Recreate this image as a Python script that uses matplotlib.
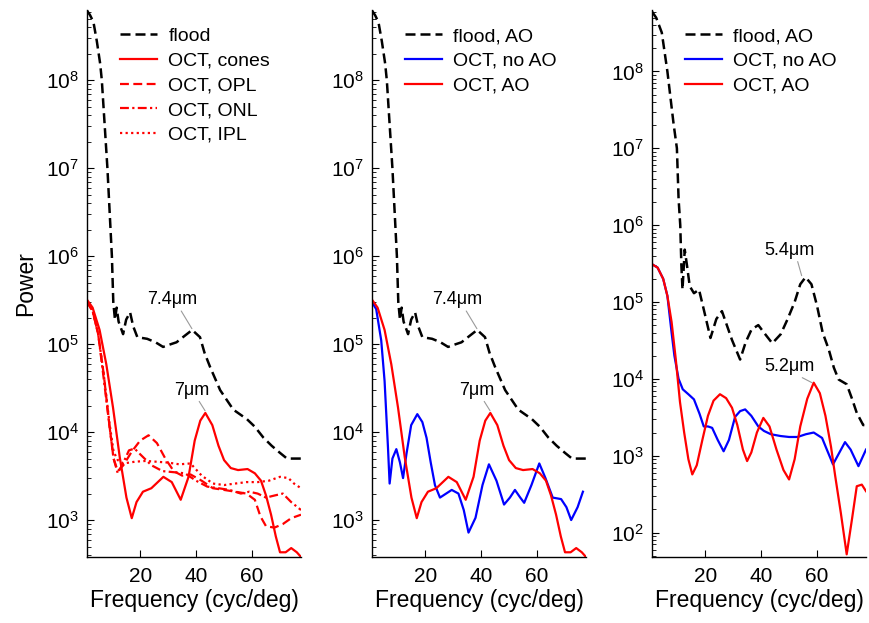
import matplotlib
matplotlib.use("Agg")
import matplotlib.pyplot as plt
from matplotlib.ticker import LogLocator, FixedLocator, NullFormatter, NullLocator

plt.rcParams['font.family'] = ['Liberation Sans', 'DejaVu Sans']
plt.rcParams['mathtext.fontset'] = 'custom'
plt.rcParams['mathtext.rm'] = 'Liberation Sans'
plt.rcParams['mathtext.it'] = 'Liberation Sans:italic'

# ---------------- data (frequency in cyc/deg, power) ----------------
flood_f = [1, 2.1, 3.3, 4.5, 5.7, 6.3, 8.3, 9.9, 10.4, 11.0, 11.6, 12.3, 13.2, 13.9, 15.0,
           16.4, 17.5, 19.0, 22.5, 25.5, 28.2, 31, 33, 36, 38.6, 41.4, 43, 45, 48.6, 53.3,
           58.2, 61, 64, 67, 70, 72.5, 77.5]
flood_p = [6.2e8, 5.5e8, 4.6e8, 2.8e8, 1.55e8, 1e8, 1e7, 1e6, 3e5, 1.9e5, 2.6e5, 1.8e5, 1.5e5,
           1.3e5, 1.9e5, 2.3e5, 1.6e5, 1.2e5, 1.15e5, 1.05e5, 9.3e4, 1e5, 1.05e5, 1.25e5, 1.45e5,
           1.2e5, 8e4, 5.5e4, 3e4, 1.8e4, 1.4e4, 1.15e4, 8.7e3, 7e3, 5.8e3, 5e3, 5e3]

cones_f = [1, 3, 5.5, 7.9, 10.3, 12.7, 15.1, 17, 18.7, 21, 24, 28.3, 31.3, 34.5, 37.3, 39.5,
           41.5, 43.3, 45.8, 48, 50, 52.4, 55, 58.4, 61, 63.2, 65, 66.8, 68.5, 70, 72, 74, 76, 77.5]
cones_p = [3.2e5, 2.6e5, 1.45e5, 5.9e4, 1.9e4, 5.2e3, 1.8e3, 1.05e3, 1.6e3, 2.1e3, 2.3e3, 3.1e3,
           2.7e3, 1.7e3, 3.1e3, 8e3, 1.35e4, 1.65e4, 1.2e4, 7e3, 4.8e3, 3.9e3, 3.7e3, 3.8e3,
           3.4e3, 2.8e3, 1.9e3, 1.15e3, 650, 430, 430, 480, 430, 380]

opl_f = [1, 3, 5, 7, 9, 10.5, 12, 14, 17, 20, 23, 26, 29, 32, 35, 38, 42, 46, 50, 54, 58, 61,
         63, 65, 68, 71, 74, 77.5]
opl_p = [3e5, 2.4e5, 1.3e5, 4.5e4, 1.2e4, 5e3, 3.6e3, 4.2e3, 6e3, 8e3, 9.2e3, 7.5e3, 5e3, 3.6e3,
         3.2e3, 3.3e3, 2.8e3, 2.3e3, 2.2e3, 2.1e3, 2e3, 1.7e3, 1.1e3, 850, 820, 900, 1.05e3, 1.15e3]

onl_f = [1, 3, 5, 7, 9, 10.5, 12, 14, 16, 18, 20, 24, 28, 32, 36, 40, 44, 48, 52, 56, 59, 62,
         65, 68, 71, 74, 77.5]
onl_p = [3e5, 2.4e5, 1.3e5, 4e4, 1.2e4, 5e3, 3.4e3, 4.5e3, 6.2e3, 6.5e3, 5.6e3, 4.2e3, 3.6e3,
         3.5e3, 3.4e3, 2.8e3, 2.4e3, 2.3e3, 2.2e3, 2e3, 2.1e3, 2e3, 1.8e3, 1.9e3, 2e3, 1.6e3, 1.3e3]

ipl_f = [1, 3, 5, 7, 9, 10.5, 12, 14, 18, 22, 26, 30, 34, 38, 42, 46, 50, 54, 58, 62, 66, 70,
         73, 75, 77.5]
ipl_p = [3e5, 2.4e5, 1.3e5, 4.5e4, 1.3e4, 6e3, 4.8e3, 4.4e3, 4.6e3, 4.7e3, 4.6e3, 4.5e3, 4.3e3,
         4.4e3, 3.2e3, 2.6e3, 2.5e3, 2.6e3, 2.7e3, 2.7e3, 2.8e3, 3.1e3, 3e3, 2.6e3, 2.3e3]

noao_f = [1, 2.5, 4.3, 5.5, 6.7, 7.3, 8.3, 9.7, 11, 12.1, 13.3, 15, 17.2, 19, 20.5, 22, 23.5,
          25.3, 27.5, 29.5, 31.9, 33.8, 35.5, 38, 40.5, 42.8, 45.5, 48.2, 50.3, 52.1, 54, 55.4,
          58, 60.8, 63, 65.6, 68.6, 70.5, 72.2, 74.5, 76.4]
noao_p = [3e5, 2.5e5, 1.1e5, 3.8e4, 6.8e3, 2.6e3, 5e3, 6.4e3, 4.5e3, 3e3, 5.6e3, 1.2e4, 1.6e4,
          1.3e4, 8.6e3, 4.5e3, 2.5e3, 1.8e3, 2e3, 2.2e3, 2e3, 1.3e3, 720, 1.06e3, 2.5e3, 4.3e3,
          2.8e3, 1.5e3, 1.8e3, 2.2e3, 1.8e3, 1.57e3, 2.5e3, 4.4e3, 3e3, 1.8e3, 1.73e3, 1.4e3,
          1e3, 1.4e3, 2.1e3]

flood3_f = [1, 2.5, 4.5, 6.5, 8.7, 9.9, 10.5, 11.1, 11.5, 11.9, 12.7, 13.5, 14.5, 16, 17.8, 19.5,
            21.9, 24, 26, 29.6, 32.5, 34.5, 36.6, 39, 41, 44, 47, 49.4, 52, 54, 55.9, 58, 60,
            62, 64.2, 66, 67.7, 70.6, 72.5, 74.2, 76.5, 77.5]
flood3_p = [6e8, 5e8, 3.2e8, 1e8, 2.1e7, 1e7, 2.2e6, 1e6, 3e5, 1.45e5, 4.8e5, 3e5, 1.6e5, 1.3e5,
            1.45e5, 8e4, 3.4e4, 6e4, 7.6e4, 3.2e4, 1.78e4, 3e4, 4.4e4, 5e4, 4e4, 2.9e4, 3.8e4,
            5.9e4, 1e5, 1.7e5, 2.1e5, 1.7e5, 8.9e4, 4e4, 2.4e4, 1.4e4, 9.8e3, 8.5e3, 5.5e3,
            3.6e3, 2.5e3, 2.5e3]

ao3_f = [1, 3, 5, 6.5, 8, 9.5, 11, 12.5, 14, 15.4, 17, 19, 21, 23, 25.3, 27.5, 29.6, 31.5, 33.5,
         35, 36.5, 38.5, 40.8, 43, 45.5, 48, 50, 52, 54, 56.5, 58.8, 61, 63, 65, 66.5, 68.5,
         70.6, 72.5, 74.2, 76, 77.5]
ao3_p = [3.1e5, 2.8e5, 2e5, 1.2e5, 5.5e4, 1.8e4, 5e3, 2e3, 900, 570, 750, 1.6e3, 3.3e3, 5.2e3,
         6.3e3, 5.6e3, 4.2e3, 2.5e3, 1.2e3, 850, 1.1e3, 2e3, 3.1e3, 2.4e3, 1.2e3, 650, 490, 900,
         2.4e3, 5.5e3, 8.9e3, 6.5e3, 3.3e3, 1.3e3, 540, 180, 52, 150, 400, 420, 345]

noao3_f = [1, 3, 5, 6.5, 8, 9, 10.5, 12, 14, 16, 18, 19.5, 21, 22.5, 24.5, 26.6, 28.5, 30.7,
           32.5, 34.3, 36.5, 39, 41, 43.5, 47, 50, 53, 56, 58.8, 61.8, 63.5, 65.7, 68, 70, 72,
           74.8, 77.5]
noao3_p = [3.1e5, 2.8e5, 2e5, 1.2e5, 4e4, 2e4, 1e4, 7.3e3, 6.3e3, 5.4e3, 3.5e3, 2.4e3, 2.4e3,
           2.3e3, 1.6e3, 1.14e3, 1.6e3, 3.2e3, 3.8e3, 4e3, 3.3e3, 2.4e3, 2.1e3, 1.9e3, 1.8e3,
           1.75e3, 1.75e3, 1.9e3, 2e3, 1.7e3, 1.2e3, 770, 1.1e3, 1.5e3, 1.2e3, 730, 1.2e3]

xticks = [20, 40, 60]
xlabel = "Frequency (cyc/deg)"
ylabel = "Power"

# ---------------- figure ----------------
fig = plt.figure(figsize=(8.69, 6.23), dpi=100)
W, H = 869, 623
top_px, bot_px = 10, 557
width_px = 214
lefts = [87, 372, 652]
axes = []
for L in lefts:
    ax = fig.add_axes([L / W, (H - bot_px) / H, width_px / W, (bot_px - top_px) / H])
    axes.append(ax)

LW = 1.6
DASH = (4, 2)
GRAY = '#9a9a9a'
TFS = 15
LFS = 14
AFS = 13

def style(ax, ymin):
    ax.set_yscale('log')
    ax.set_xlim(1, 77.5)
    ax.set_ylim(ymin, 6.3e8)
    for s in ['top', 'right']:
        ax.spines[s].set_visible(False)
    ax.spines['left'].set_linewidth(1.0)
    ax.spines['bottom'].set_linewidth(1.0)
    ax.xaxis.set_major_locator(FixedLocator(xticks))
    ax.xaxis.set_minor_locator(NullLocator())
    ax.yaxis.set_major_locator(LogLocator(base=10, numticks=20))
    ax.yaxis.set_minor_locator(LogLocator(base=10, subs=range(2, 10), numticks=20))
    ax.yaxis.set_minor_formatter(NullFormatter())
    ax.tick_params(axis='both', which='major', direction='in', length=5, width=0.8,
                   labelsize=TFS)
    ax.tick_params(axis='y', which='minor', direction='in', length=3, width=0.6)
    ax.tick_params(axis='x', which='major', pad=7)
    ax.tick_params(axis='y', which='major', pad=6)
    ax.xaxis.get_offset_text().set_visible(False)
    ax.yaxis.get_offset_text().set_visible(False)
    ax.set_xlabel(xlabel, fontsize=16.5, labelpad=2)

def leg(ax, x0):
    lg = ax.legend(loc='upper left', bbox_to_anchor=(x0, 1.0 - 4 / 547), frameon=False,
                   fontsize=LFS, handlelength=1.9, handletextpad=0.6,
                   labelspacing=0.36, borderaxespad=0.3)
    return lg

def ann(ax, text, xy, xytext):
    ax.annotate(text, xy=xy, xytext=xytext, fontsize=AFS, ha='center', va='center',
                arrowprops=dict(arrowstyle='-', color=GRAY, lw=0.8, shrinkA=0, shrinkB=0,
                                relpos=(0.65, 0.0)))

# panel 1
ax = axes[0]
ax.plot(flood_f, flood_p, color='black', lw=1.8, dashes=DASH, label='flood')
ax.plot(cones_f, cones_p, color='red', lw=LW, label='OCT, cones')
ax.plot(opl_f, opl_p, color='red', lw=LW, dashes=(4, 2), label='OCT, OPL')
ax.plot(onl_f, onl_p, color='red', lw=LW, dashes=(4, 1.5, 1, 1.5), label='OCT, ONL')
ax.plot(ipl_f, ipl_p, color='red', lw=LW, dashes=(1, 1.5), label='OCT, IPL')
style(ax, 380)
ax.set_ylabel(ylabel, fontsize=16.5, labelpad=6)
leg(ax, 0.09)
ann(ax, "7.4\u03bcm", (38.5, 1.5e5), (31.4, 3.2e5))
ann(ax, "7\u03bcm", (43.2, 1.75e4), (38.6, 3e4))

# panel 2
ax = axes[1]
ax.plot(flood_f, flood_p, color='black', lw=1.8, dashes=DASH, label='flood, AO')
ax.plot(noao_f, noao_p, color='blue', lw=LW, label='OCT, no AO')
ax.plot(cones_f, cones_p, color='red', lw=LW, label='OCT, AO')
style(ax, 380)
leg(ax, 0.09)
ann(ax, "7.4\u03bcm", (38.5, 1.5e5), (31.4, 3.2e5))
ann(ax, "7\u03bcm", (43.2, 1.75e4), (38.6, 3e4))

# panel 3
ax = axes[2]
ax.plot(flood3_f, flood3_p, color='black', lw=1.8, dashes=DASH, label='flood, AO')
ax.plot(noao3_f, noao3_p, color='blue', lw=LW, label='OCT, no AO')
ax.plot(ao3_f, ao3_p, color='red', lw=LW, label='OCT, AO')
style(ax, 48)
leg(ax, 0.09)
ann(ax, "5.4\u03bcm", (54.5, 2.2e5), (50.1, 4.7e5))
ann(ax, "5.2\u03bcm", (58.2, 8.9e3), (50.1, 1.45e4))

fig.savefig("out.png", dpi=100)
